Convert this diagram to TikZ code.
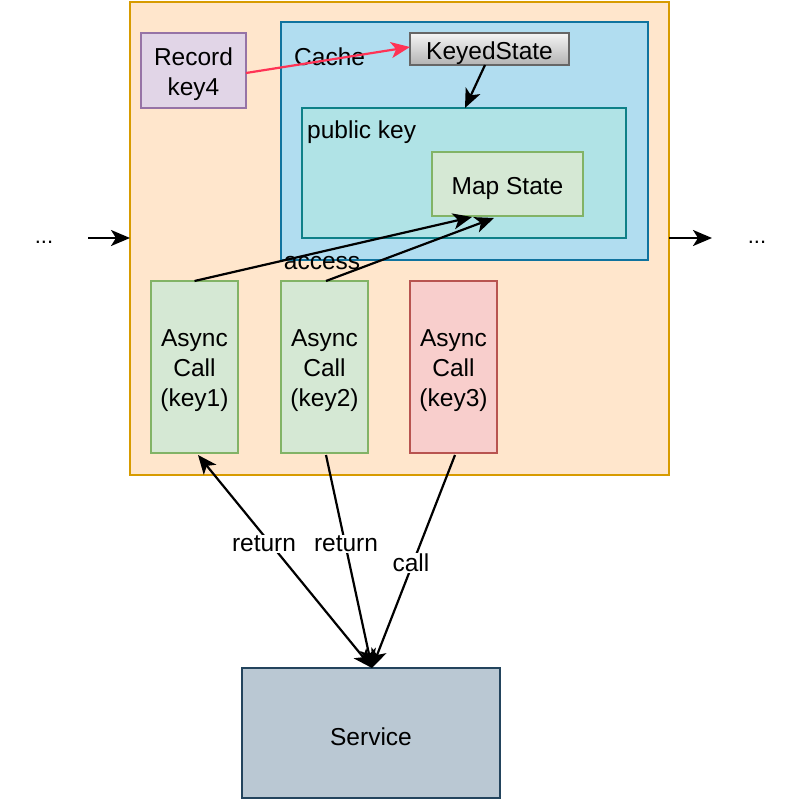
\documentclass[tikz,border=0pt]{standalone}
\usepackage{fontspec}
\setmainfont{Liberation Sans}
\usetikzlibrary{arrows.meta}
\definecolor{outerfill}{HTML}{FFE6CC}
\definecolor{outerdraw}{HTML}{D79B00}
\definecolor{cachefill}{HTML}{B1DDF0}
\definecolor{cachedraw}{HTML}{10739E}
\definecolor{pkfill}{HTML}{B0E3E6}
\definecolor{pkdraw}{HTML}{0E8088}
\definecolor{greenfill}{HTML}{D5E8D4}
\definecolor{greendraw}{HTML}{82B366}
\definecolor{redfill}{HTML}{F8CECC}
\definecolor{reddraw}{HTML}{B85450}
\definecolor{purplefill}{HTML}{E1D5E7}
\definecolor{purpledraw}{HTML}{9673A6}
\definecolor{servfill}{HTML}{BAC8D3}
\definecolor{servdraw}{HTML}{23445D}
\definecolor{ksdraw}{HTML}{666666}
\definecolor{redarrow}{HTML}{FF3355}
\tikzset{
  box/.style={rectangle, inner sep=0pt, outer sep=0pt, line width=1.6pt},
  txt/.style={label={[lbl, align=center, yshift=-4pt]center:#1}},
  tip/.tip={Stealth[length=19pt,width=16pt,inset=5pt]},
  arr/.style={line width=2.2pt, -tip},
  lbl/.style={font=\fontsize{24.5}{30}\selectfont, inner sep=1pt},
}
\begin{document}
\begin{tikzpicture}[x=1pt,y=-1pt]
\useasboundingbox (0,0) rectangle (800,800);
% outer container
\node[box, fill=outerfill, draw=outerdraw, minimum width=539pt, minimum height=473pt] (outer) at (399.5,238.5) {};
% cache
\node[box, fill=cachefill, draw=cachedraw, minimum width=367pt, minimum height=238pt] (cache) at (464.5,141) {};
\node[lbl, anchor=west] (cachelbl) at (293,57) {Cache};
% public key
\node[box, fill=pkfill, draw=pkdraw, minimum width=324pt, minimum height=130pt] (pk) at (464,173) {};
\node[lbl, anchor=west] (pklbl) at (306,132) {public key};
% map state
\node[box, fill=greenfill, draw=greendraw, minimum width=151pt, minimum height=64pt, txt={Map State}] (map) at (507.5,184) {};
% keyed state
\node[box, top color=white!96!black, bottom color=black!30, draw=ksdraw, minimum width=159pt, minimum height=32pt, txt={KeyedState}] (ks) at (489.5,49) {};
% record
\node[box, fill=purplefill, draw=purpledraw, minimum width=105pt, minimum height=75pt, txt={Record\\key4}] (rec) at (193.5,70.5) {};
% async calls
\node[box, fill=greenfill, draw=greendraw, minimum width=87pt, minimum height=172pt, txt={Async\\Call\\(key1)}] (a1) at (194.5,367) {};
\node[box, fill=greenfill, draw=greendraw, minimum width=87pt, minimum height=172pt, txt={Async\\Call\\(key2)}] (a2) at (324.5,367) {};
\node[box, fill=redfill, draw=reddraw, minimum width=87pt, minimum height=172pt, txt={Async\\Call\\(key3)}] (a3) at (453.5,367) {};
% service
\node[box, fill=servfill, draw=servdraw, minimum width=258pt, minimum height=130pt, txt={Service}] (serv) at (371,733) {};
% dots
\node[font=\fontsize{22}{26}\selectfont] (dl) at (44,242) {...};
\node[font=\fontsize{22}{26}\selectfont] (dr) at (757,242) {...};
\coordinate (inL) at (88,238);
\coordinate (outR) at (712,238);
\draw[arr] (inL) -- (outer.west |- inL);
\draw[arr] (outer.east |- outR) -- (outR);
% record -> keyed state
\draw[arr, draw=redarrow, fill=redarrow] (rec.east |- 0,73) -- (ks.west |- 0,47);
% keyed state -> public key
\draw[arr] (485,65) -- (465,108);
% access
\draw[arr] (a1.north) -- (472,217);
\draw[arr] (326,281) -- (494,218);
\node[lbl] (acc) at (322,263) {access};
% service arrows
\coordinate (sv) at (372,668);
\draw[line width=2.2pt, tip-tip] (198,455) -- (sv);
\draw[arr] (326,455) -- (sv);
\draw[arr] (455,455) -- (sv);
\node[lbl, fill=white] (r1) at (264,544) {return};
\node[lbl, fill=white] (r2) at (346,544) {return};
\node[lbl, fill=white] (cl) at (411,563) {call};
\end{tikzpicture}
\end{document}
